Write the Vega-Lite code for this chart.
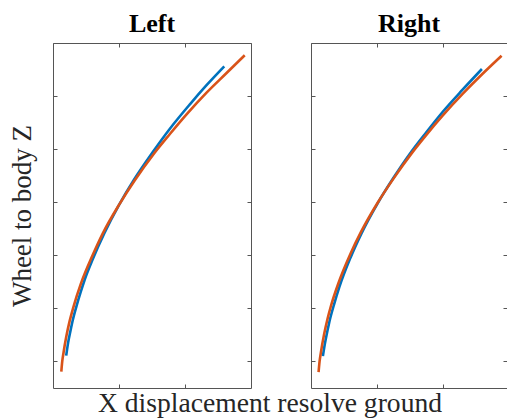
{
  "$schema": "https://vega.github.io/schema/vega-lite/v6.json",
  "padding": {"left": 8, "top": 10, "right": 0, "bottom": 0},
  "background": "white",
  "config": {
    "font": "Liberation Serif",
    "view": {"stroke": null},
    "axis": {
      "labels": false,
      "grid": false,
      "domainColor": "#555555",
      "domainWidth": 1,
      "tickColor": "#555555",
      "tickWidth": 1,
      "tickSize": -4
    }
  },
  "datasets": {
    "curves": [
      {"panel": "Left", "series": "blue", "x": 0.20, "y": 0.11},
      {"panel": "Left", "series": "blue", "x": 0.23, "y": 0.36},
      {"panel": "Left", "series": "blue", "x": 0.262, "y": 0.56},
      {"panel": "Left", "series": "blue", "x": 0.30, "y": 0.78},
      {"panel": "Left", "series": "blue", "x": 0.353, "y": 1.03},
      {"panel": "Left", "series": "blue", "x": 0.42, "y": 1.31},
      {"panel": "Left", "series": "blue", "x": 0.48, "y": 1.54},
      {"panel": "Left", "series": "blue", "x": 0.60, "y": 1.92},
      {"panel": "Left", "series": "blue", "x": 0.78, "y": 2.42},
      {"panel": "Left", "series": "blue", "x": 1.005, "y": 2.96},
      {"panel": "Left", "series": "blue", "x": 1.22, "y": 3.41},
      {"panel": "Left", "series": "blue", "x": 1.515, "y": 3.95},
      {"panel": "Left", "series": "blue", "x": 1.768, "y": 4.38},
      {"panel": "Left", "series": "blue", "x": 2.071, "y": 4.84},
      {"panel": "Left", "series": "blue", "x": 2.323, "y": 5.20},
      {"panel": "Left", "series": "blue", "x": 2.595, "y": 5.56},
      {"panel": "Left", "series": "orange", "x": 0.126, "y": -0.19},
      {"panel": "Left", "series": "orange", "x": 0.14, "y": 0.0},
      {"panel": "Left", "series": "orange", "x": 0.16, "y": 0.17},
      {"panel": "Left", "series": "orange", "x": 0.20, "y": 0.46},
      {"panel": "Left", "series": "orange", "x": 0.25, "y": 0.75},
      {"panel": "Left", "series": "orange", "x": 0.308, "y": 1.02},
      {"panel": "Left", "series": "orange", "x": 0.424, "y": 1.47},
      {"panel": "Left", "series": "orange", "x": 0.60, "y": 2.00},
      {"panel": "Left", "series": "orange", "x": 0.753, "y": 2.41},
      {"panel": "Left", "series": "orange", "x": 1.005, "y": 2.96},
      {"panel": "Left", "series": "orange", "x": 1.232, "y": 3.40},
      {"panel": "Left", "series": "orange", "x": 1.526, "y": 3.91},
      {"panel": "Left", "series": "orange", "x": 1.768, "y": 4.28},
      {"panel": "Left", "series": "orange", "x": 2.02, "y": 4.65},
      {"panel": "Left", "series": "orange", "x": 2.323, "y": 5.06},
      {"panel": "Left", "series": "orange", "x": 2.626, "y": 5.43},
      {"panel": "Left", "series": "orange", "x": 2.905, "y": 5.77},
      {"panel": "Right", "series": "blue", "x": 0.18, "y": 0.10},
      {"panel": "Right", "series": "blue", "x": 0.20, "y": 0.26},
      {"panel": "Right", "series": "blue", "x": 0.227, "y": 0.44},
      {"panel": "Right", "series": "blue", "x": 0.277, "y": 0.74},
      {"panel": "Right", "series": "blue", "x": 0.353, "y": 1.09},
      {"panel": "Right", "series": "blue", "x": 0.429, "y": 1.40},
      {"panel": "Right", "series": "blue", "x": 0.60, "y": 1.96},
      {"panel": "Right", "series": "blue", "x": 0.76, "y": 2.40},
      {"panel": "Right", "series": "blue", "x": 1.01, "y": 2.98},
      {"panel": "Right", "series": "blue", "x": 1.25, "y": 3.46},
      {"panel": "Right", "series": "blue", "x": 1.49, "y": 3.90},
      {"panel": "Right", "series": "blue", "x": 1.742, "y": 4.31},
      {"panel": "Right", "series": "blue", "x": 1.994, "y": 4.70},
      {"panel": "Right", "series": "blue", "x": 2.297, "y": 5.12},
      {"panel": "Right", "series": "blue", "x": 2.59, "y": 5.51},
      {"panel": "Right", "series": "orange", "x": 0.115, "y": -0.20},
      {"panel": "Right", "series": "orange", "x": 0.13, "y": 0.0},
      {"panel": "Right", "series": "orange", "x": 0.15, "y": 0.17},
      {"panel": "Right", "series": "orange", "x": 0.20, "y": 0.52},
      {"panel": "Right", "series": "orange", "x": 0.25, "y": 0.80},
      {"panel": "Right", "series": "orange", "x": 0.303, "y": 1.05},
      {"panel": "Right", "series": "orange", "x": 0.414, "y": 1.47},
      {"panel": "Right", "series": "orange", "x": 0.595, "y": 2.02},
      {"panel": "Right", "series": "orange", "x": 0.758, "y": 2.44},
      {"panel": "Right", "series": "orange", "x": 1.01, "y": 2.99},
      {"panel": "Right", "series": "orange", "x": 1.247, "y": 3.44},
      {"panel": "Right", "series": "orange", "x": 1.53, "y": 3.93},
      {"panel": "Right", "series": "orange", "x": 1.742, "y": 4.26},
      {"panel": "Right", "series": "orange", "x": 1.994, "y": 4.63},
      {"panel": "Right", "series": "orange", "x": 2.297, "y": 5.04},
      {"panel": "Right", "series": "orange", "x": 2.60, "y": 5.42},
      {"panel": "Right", "series": "orange", "x": 2.888, "y": 5.76}
    ]
  },
  "title": {
    "text": "X displacement resolve ground",
    "orient": "bottom",
    "anchor": "middle",
    "font": "Liberation Serif",
    "fontSize": 27.6,
    "fontWeight": "normal",
    "color": "#262626",
    "offset": 1,
    "dx": 12
  },
  "spacing": 58,
  "hconcat": [
    {
      "title": {"text": "Left", "font": "Liberation Serif", "fontSize": 26, "fontWeight": "bold", "color": "#000000", "offset": 6},
      "width": 198,
      "height": 345,
      "data": {"name": "curves"},
      "transform": [{"filter": "datum.panel === 'Left'"}],
      "layer": [
        {
          "mark": {"type": "line", "strokeWidth": 2.6, "interpolate": "monotone"},
          "encoding": {
            "x": {"field": "x", "type": "quantitative", "scale": {"domain": [0, 3], "nice": false, "zero": false}, "axis": {"orient": "bottom", "values": [1, 2], "title": null}},
            "y": {"field": "y", "type": "quantitative", "scale": {"domain": [-0.5, 6], "nice": false, "zero": false}, "axis": {"orient": "left", "values": [0, 1, 2, 3, 4, 5, 6], "title": "Wheel to body Z", "titleFont": "Liberation Serif", "titleFontSize": 27, "titleFontWeight": "normal", "titleColor": "#262626", "titlePadding": 16}},
            "color": {"field": "series", "type": "nominal", "scale": {"domain": ["blue", "orange"], "range": ["#0072BD", "#D95319"]}, "legend": null}
          }
        },
        {
          "mark": {"type": "line", "opacity": 0},
          "encoding": {
            "x": {"field": "x", "type": "quantitative", "axis": {"orient": "top", "values": [1, 2], "title": null}},
            "y": {"field": "y", "type": "quantitative", "axis": {"orient": "right", "values": [0, 1, 2, 3, 4, 5, 6], "title": null}},
            "detail": {"field": "series"}
          }
        }
      ],
      "resolve": {"axis": {"x": "independent", "y": "independent"}}
    },
    {
      "title": {"text": "Right", "font": "Liberation Serif", "fontSize": 26, "fontWeight": "bold", "color": "#000000", "offset": 6},
      "width": 196,
      "height": 345,
      "data": {"name": "curves"},
      "transform": [{"filter": "datum.panel === 'Right'"}],
      "layer": [
        {
          "mark": {"type": "line", "strokeWidth": 2.6, "interpolate": "monotone"},
          "encoding": {
            "x": {"field": "x", "type": "quantitative", "scale": {"domain": [0, 2.97], "nice": false, "zero": false}, "axis": {"orient": "bottom", "values": [1, 2], "title": null}},
            "y": {"field": "y", "type": "quantitative", "scale": {"domain": [-0.5, 6], "nice": false, "zero": false}, "axis": {"orient": "left", "values": [0, 1, 2, 3, 4, 5, 6], "title": null}},
            "color": {"field": "series", "type": "nominal", "scale": {"domain": ["blue", "orange"], "range": ["#0072BD", "#D95319"]}, "legend": null}
          }
        },
        {
          "mark": {"type": "line", "opacity": 0},
          "encoding": {
            "x": {"field": "x", "type": "quantitative", "axis": {"orient": "top", "values": [1, 2], "title": null}},
            "y": {"field": "y", "type": "quantitative", "axis": {"orient": "right", "values": [0, 1, 2, 3, 4, 5, 6], "title": null, "domain": false}},
            "detail": {"field": "series"}
          }
        }
      ],
      "resolve": {"axis": {"x": "independent", "y": "independent"}}
    }
  ]
}
